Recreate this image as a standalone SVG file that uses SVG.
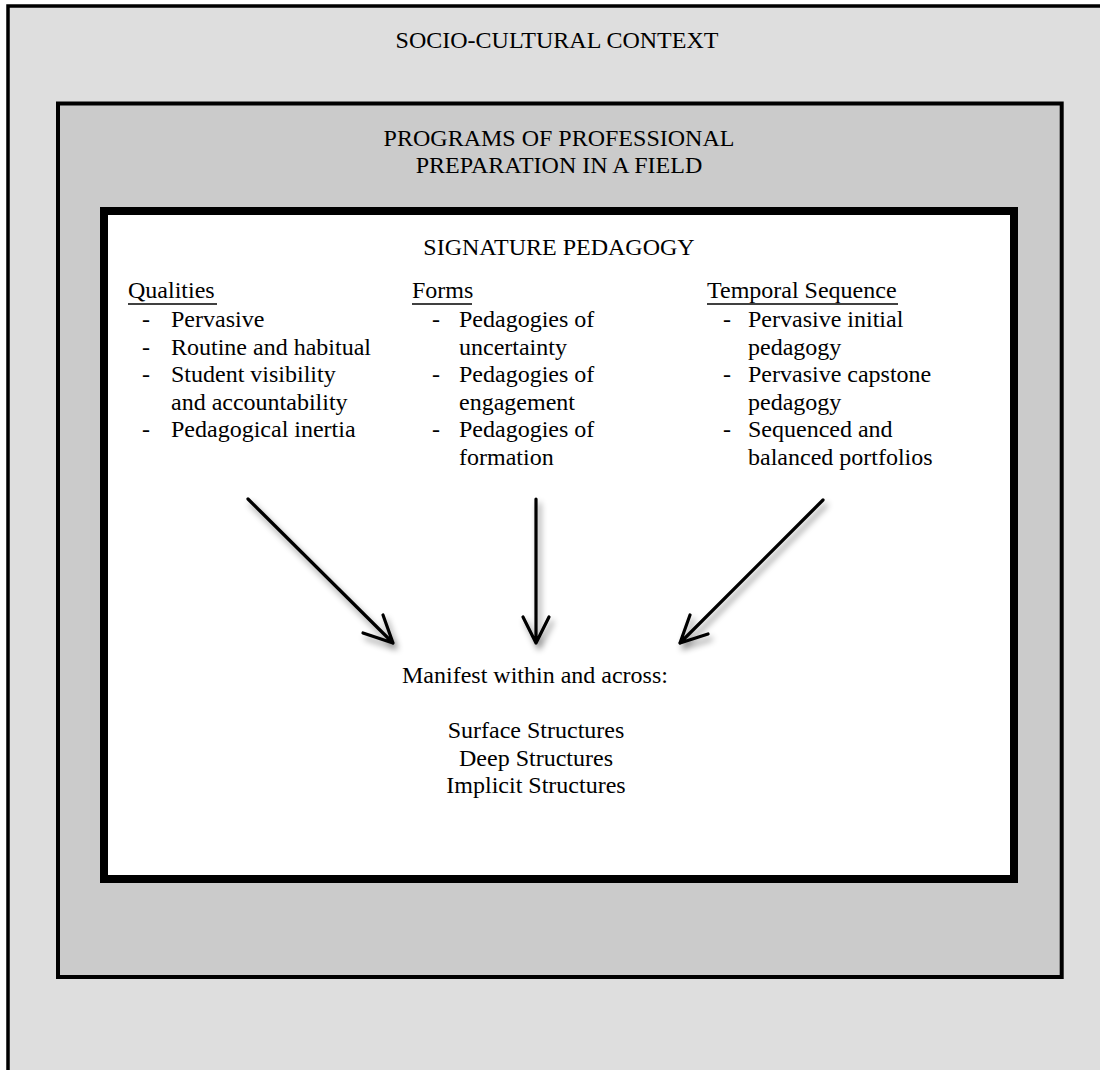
<svg xmlns="http://www.w3.org/2000/svg" width="1100" height="1070" viewBox="0 0 1100 1070">
<style>
text{font-family:"Liberation Serif","Times New Roman",serif;font-size:24px;fill:#000}
.c{text-anchor:middle}
.box{stroke:#000}
.ul{stroke:#000;stroke-width:1.6}
.arr{fill:none;stroke:#000;stroke-width:3.2;stroke-linecap:round;stroke-linejoin:round}
</style>
<defs>
<filter id="sh" x="-30%" y="-30%" width="160%" height="160%">
<feDropShadow dx="3" dy="5" stdDeviation="3" flood-color="#000" flood-opacity="0.45"/>
</filter>
</defs>
<rect width="1100" height="1070" fill="#fff"/>
<g id="socio-cultural-context">
<rect class="box" x="8" y="6" width="1100" height="1080" fill="#dedede" stroke-width="3.5"/>
<text class="c" x="557" y="48">SOCIO-CULTURAL CONTEXT</text>
</g>
<g id="programs">
<rect class="box" x="58" y="103.5" width="1003.7" height="873.5" fill="#cbcbcb" stroke-width="4"/>
<text class="c" x="559" y="146">PROGRAMS OF PROFESSIONAL</text>
<text class="c" x="559" y="173">PREPARATION IN A FIELD</text>
</g>
<g id="signature-pedagogy">
<rect class="box" x="104" y="211" width="910" height="668" fill="#fff" stroke-width="8"/>
<text class="c" x="559" y="255">SIGNATURE PEDAGOGY</text>
</g>
<g id="qualities">
<text x="128" y="298">Qualities</text>
<line class="ul" x1="128" y1="304" x2="217" y2="304"/>
<text x="142" y="327">-</text><text x="171" y="327">Pervasive</text>
<text x="142" y="354.5">-</text><text x="171" y="354.5">Routine and habitual</text>
<text x="142" y="382">-</text><text x="171" y="382">Student visibility</text>
<text x="171" y="409.5">and accountability</text>
<text x="142" y="437">-</text><text x="171" y="437">Pedagogical inertia</text>
</g>
<g id="forms">
<text x="412" y="298">Forms</text>
<line class="ul" x1="412" y1="304" x2="472" y2="304"/>
<text x="432" y="327">-</text><text x="459" y="327">Pedagogies of</text>
<text x="459" y="354.5">uncertainty</text>
<text x="432" y="382">-</text><text x="459" y="382">Pedagogies of</text>
<text x="459" y="409.5">engagement</text>
<text x="432" y="437">-</text><text x="459" y="437">Pedagogies of</text>
<text x="459" y="464.5">formation</text>
</g>
<g id="temporal-sequence">
<text x="707" y="298">Temporal Sequence</text>
<line class="ul" x1="707" y1="304" x2="898" y2="304"/>
<text x="723" y="327">-</text><text x="748" y="327">Pervasive initial</text>
<text x="748" y="354.5">pedagogy</text>
<text x="723" y="382">-</text><text x="748" y="382">Pervasive capstone</text>
<text x="748" y="409.5">pedagogy</text>
<text x="723" y="437">-</text><text x="748" y="437">Sequenced and</text>
<text x="748" y="464.5">balanced portfolios</text>
</g>
<g id="manifest">
<text class="c" x="535" y="683">Manifest within and across:</text>
<text class="c" x="536" y="738">Surface Structures</text>
<text class="c" x="536" y="765.5">Deep Structures</text>
<text class="c" x="536" y="793">Implicit Structures</text>
</g>
<g id="connectors" filter="url(#sh)">
<path class="arr" d="M248,499 L393,643 M363,633 L393,643 L383,615"/>
<path class="arr" d="M536,499 L536,643 M523,617 L536,643 L549,617"/>
<path class="arr" d="M823,500 L680,643 M690,615 L680,643 L708,634"/>
</g>
</svg>
